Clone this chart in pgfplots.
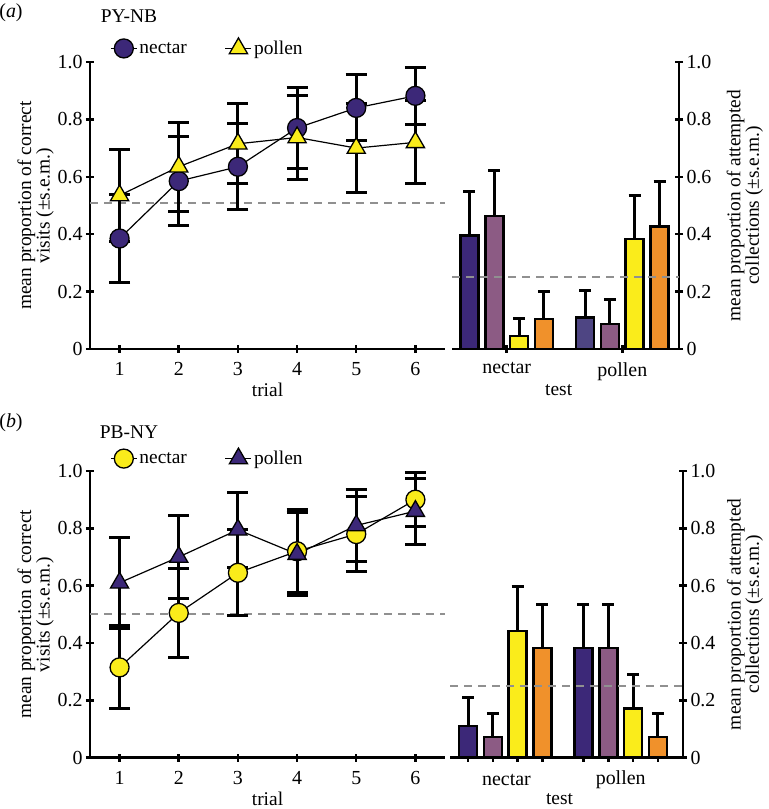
\documentclass[border=0pt]{standalone}
\usepackage{fontspec}
\setmainfont{Liberation Serif}
\usepackage{pgfplots}
\pgfplotsset{compat=1.18}
\definecolor{cpurple}{HTML}{3C2878}
\definecolor{cmauve}{HTML}{8C5B84}
\definecolor{cyellow}{HTML}{FAEC1B}
\definecolor{corange}{HTML}{F0912B}
\definecolor{cslate}{HTML}{4E4583}
\definecolor{cdash}{HTML}{909090}
\newcommand{\lblfont}{\fontsize{19.5}{18.5}\selectfont}
\pgfplotsset{
  base/.style={scale only axis, clip=false, ymin=0, ymax=1,
    tick style={line width=2.5bp, black},
    major tick length=8bp, tick align=outside,
    ytick={0,0.2,0.4,0.6,0.8,1.0},
    yticklabels={0,0.2,0.4,0.6,0.8,1.0},
    tick label style={font=\fontsize{20}{20}\selectfont},
    xticklabel style={yshift=-6bp},
    /pgf/number format/assume math mode=true,
  },
  lineax/.style={base, width=355bp, xmin=0.5, xmax=6.5, xtick={1,2,3,4,5,6},
    axis x line=bottom, axis y line=left, xlabel={trial},
    every axis x label/.style={at={(axis description cs:0.5,0)}, anchor=center, yshift=-41bp, font=\lblfont},
    ylabel={mean proportion of correct\\visits (±s.e.m.)},
    every axis y label/.style={at={(axis description cs:-0.153,0.5)}, rotate=90, anchor=center, font=\lblfont, align=center},
    legend columns=2,
    legend image code/.code={\draw[mark repeat=2, mark phase=2] plot coordinates {(0bp,0bp) (13bp,0bp) (26bp,0bp)};},
    axis line style={-, line width=2.5bp},
  },
  barax/.style={base, axis x line=bottom, axis y line=right, xlabel={test},
    every axis x label/.style={at={(axis description cs:0.47,0)}, anchor=center, yshift=-41bp, font=\lblfont},
    ylabel={mean proportion of attempted\\collections (±s.e.m.)},
    axis line style={-, line width=2.5bp},
  },
  lerr/.style={error bars/.cd, y dir=both, y explicit,
    error bar style={line width=3bp, black},
    error mark options={rotate=90, mark size=10.5bp, line width=3bp, black}},
  berr/.style={ybar, bar width=18bp, bar shift=0bp, draw=black, line width=2.5bp,
    error bars/.cd, y dir=plus, y explicit,
    error bar style={line width=3bp, black},
    error mark options={rotate=90, mark size=6bp, line width=3bp, black}},
}
\begin{document}
\begin{tikzpicture}
\path[use as bounding box] (0,0) rectangle (769bp,809bp);
\node[font=\fontsize{20}{20}\selectfont] at (11bp,796bp) {(\textit{a})};
\node[font=\fontsize{19.5}{20}\selectfont] at (129bp,793bp) {PY-NB};
\node[font=\fontsize{20}{20}\selectfont] at (11bp,386bp) {(\textit{b})};
\node[font=\fontsize{19.5}{20}\selectfont] at (129bp,377bp) {PB-NY};

% ---------- (a) line chart
\begin{axis}[lineax, at={(90bp,460bp)}, anchor=south west, height=287bp,
  legend style={at={(axis description cs:0.048,1.049)}, anchor=west, draw=none, fill=none,
    font=\fontsize{19.5}{20}\selectfont, /tikz/every even column/.append style={column sep=36bp}}]
\addplot[cdash, line width=2bp, dash pattern=on 8bp off 6bp, forget plot] coordinates {(0.5,0.51) (6.5,0.51)};
\addplot[black, line width=1.2bp, mark=*, mark size=9.5bp, mark options={fill=cpurple, draw=black, line width=1.3bp}, lerr]
  coordinates {(1,0.385) +- (0,0.155) (2,0.585) +- (0,0.155) (3,0.635) +- (0,0.15) (4,0.77) +- (0,0.14) (5,0.84) +- (0,0.115) (6,0.882) +- (0,0.10)};
\addlegendentry{nectar}
\addplot[black, line width=1.2bp, mark=triangle*, mark size=10.5bp, mark options={fill=cyellow, draw=black, line width=1.3bp}, lerr]
  coordinates {(1,0.535) +- (0,0.16) (2,0.635) +- (0,0.155) (3,0.715) +- (0,0.14) (4,0.737) +- (0,0.145) (5,0.70) +- (0,0.155) (6,0.72) +- (0,0.145)};
\addlegendentry{pollen}
\end{axis}

% ---------- (a) bar chart
\begin{axis}[barax, at={(452bp,460bp)}, anchor=south west, width=227bp, height=287bp,
  xmin=0.3, xmax=9.43, xtick={2.5,7.15}, xticklabels={nectar,pollen},
  every axis y label/.style={at={(axis description cs:1.29,0.5)}, rotate=90, anchor=center, font=\lblfont, align=center}]
\addplot[fill=cpurple, berr] coordinates {(1,0.395) +- (0,0.155)};
\addplot[fill=cmauve, berr] coordinates {(2,0.464) +- (0,0.158) (6.65,0.087) +- (0,0.087)};
\addplot[fill=cyellow, berr] coordinates {(3,0.045) +- (0,0.061) (7.65,0.384) +- (0,0.152)};
\addplot[fill=corange, berr] coordinates {(4,0.105) +- (0,0.097) (8.65,0.427) +- (0,0.156)};
\addplot[fill=cslate, berr] coordinates {(5.65,0.11) +- (0,0.094)};
\addplot[cdash, line width=2bp, dash pattern=on 8bp off 6bp] coordinates {(0.3,0.25) (9.43,0.25)};
\end{axis}

% ---------- (b) line chart
\begin{axis}[lineax, at={(90bp,51.3bp)}, anchor=south west, height=286.7bp,
  legend style={at={(axis description cs:0.048,1.045)}, anchor=west, draw=none, fill=none,
    font=\fontsize{19.5}{20}\selectfont, /tikz/every even column/.append style={column sep=36bp}}]
\addplot[cdash, line width=2bp, dash pattern=on 8bp off 6bp, forget plot] coordinates {(0.5,0.50) (6.5,0.50)};
\addplot[black, line width=1.2bp, mark=*, mark size=9.5bp, mark options={fill=cyellow, draw=black, line width=1.3bp}, lerr]
  coordinates {(1,0.315) +- (0,0.145) (2,0.505) +- (0,0.155) (3,0.645) +- (0,0.15) (4,0.72) +- (0,0.145) (5,0.78) +- (0,0.13) (6,0.90) +- (0,0.095)};
\addlegendentry{nectar}
\addplot[black, line width=1.2bp, mark=triangle*, mark size=10.5bp, mark options={fill=cpurple, draw=black, line width=1.3bp}, lerr]
  coordinates {(1,0.61) +- (0,0.158) (2,0.70) +- (0,0.145) (3,0.795) +- (0,0.13) (4,0.71) +- (0,0.145) (5,0.81) +- (0,0.125) (6,0.86) +- (0,0.115)};
\addlegendentry{pollen}
\end{axis}

% ---------- (b) bar chart
\begin{axis}[barax, at={(450bp,51.3bp)}, anchor=south west, width=233bp, height=286.7bp,
  xmin=0.275, xmax=9.66, xtick={1,2,3,4,5.65,6.65,7.65,8.65}, xticklabels={},
  every axis y label/.style={at={(axis description cs:1.266,0.5)}, rotate=90, anchor=center, font=\lblfont, align=center}]
\addplot[fill=cpurple, berr] coordinates {(1,0.11) +- (0,0.10) (5.65,0.382) +- (0,0.153)};
\addplot[fill=cmauve, berr] coordinates {(2,0.072) +- (0,0.082) (6.65,0.382) +- (0,0.153)};
\addplot[fill=cyellow, berr] coordinates {(3,0.442) +- (0,0.156) (7.65,0.171) +- (0,0.119)};
\addplot[fill=corange, berr] coordinates {(4,0.382) +- (0,0.153) (8.65,0.072) +- (0,0.082)};
\addplot[cdash, line width=2bp, dash pattern=on 8bp off 6bp] coordinates {(0.275,0.25) (9.66,0.25)};
\node[font=\fontsize{20}{20}\selectfont, anchor=center] at (axis cs:2.55,0) [yshift=-22bp] {nectar};
\node[font=\fontsize{20}{20}\selectfont, anchor=center] at (axis cs:7.15,0) [yshift=-22bp] {pollen};
\end{axis}
\end{tikzpicture}
\end{document}
